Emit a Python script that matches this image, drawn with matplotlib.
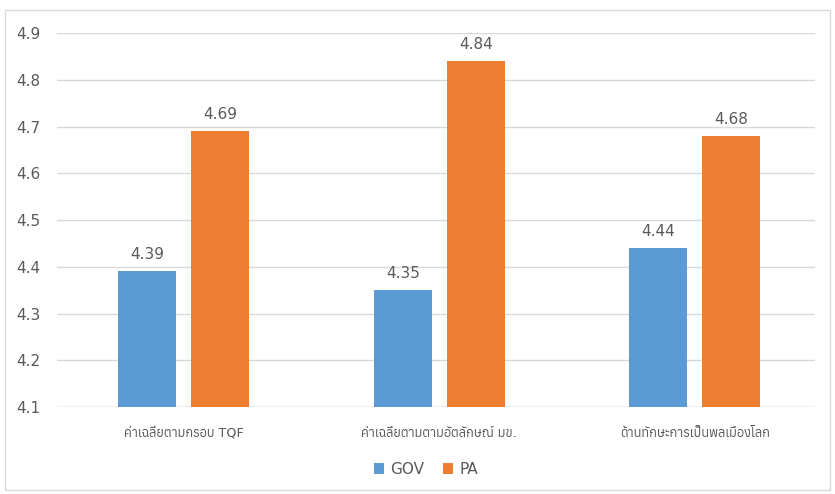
import numpy as np
import matplotlib.pyplot as plt
from matplotlib import font_manager
from matplotlib.ft2font import FT2Font
from matplotlib.patches import Rectangle

categories = ['ค่าเฉลี่ยตามกรอบ TQF', 'ค่าเฉลี่ยตามตามอัตลักษณ์ มข.', 'ด้านทักษะการเป็นพลเมืองโลก']
gov = [4.39, 4.35, 4.44]
pa = [4.69, 4.84, 4.68]
yticks = [4.1, 4.2, 4.3, 4.4, 4.5, 4.6, 4.7, 4.8, 4.9]

# find a font that has Thai glyphs
thai_fonts = []
for f in font_manager.fontManager.ttflist:
    try:
        if ord('ก') in FT2Font(f.fname).get_charmap():
            thai_fonts.append(f.name)
    except Exception:
        pass
thai_fonts = sorted(set(thai_fonts))
plt.rcParams['font.family'] = ['DejaVu Sans'] + thai_fonts[:1]

grey = '#595959'
fig = plt.figure(figsize=(8.35, 4.94), dpi=100)
fig.patches.append(Rectangle((0.006, 0.008), 0.988, 0.972, transform=fig.transFigure,
                             fill=False, edgecolor='#D9D9D9', lw=1))
ax = fig.add_axes([0.068, 0.176, 0.908, 0.757])

x = np.arange(len(categories))
w = 0.227
b1 = ax.bar(x - 0.143, np.array(gov) - 4.1, w, bottom=4.1, color='#5B9BD5', label='GOV', zorder=3)
b2 = ax.bar(x + 0.143, np.array(pa) - 4.1, w, bottom=4.1, color='#ED7D31', label='PA', zorder=3)
for bars, vals in [(b1, gov), (b2, pa)]:
    for r, v in zip(bars, vals):
        ax.text(r.get_x() + r.get_width() / 2, v + 0.02, f'{v:.2f}', ha='center', va='bottom',
                fontsize=11, color=grey)

ax.set_xlim(-0.497, 2.470)
ax.set_ylim(4.1, 4.9)
ax.set_yticks(yticks)
ax.set_yticklabels([f'{t:.1f}' for t in yticks])
ax.set_xticks(x)
ax.set_xticklabels(categories, fontsize=9.2)
ax.tick_params(axis='y', length=0, labelsize=11, labelcolor=grey, pad=12)
ax.tick_params(axis='x', length=0, labelcolor=grey, pad=14)
ax.grid(axis='y', color='#D9D9D9', lw=1, zorder=0)
for s in ax.spines.values():
    s.set_visible(False)
ax.axhline(4.1, color='#D9D9D9', lw=1, zorder=1)

fig.legend(handles=[b1, b2], labels=['GOV', 'PA'], loc='center', bbox_to_anchor=(0.51, 0.05),
           ncol=2, frameon=False, fontsize=11, labelcolor=grey, handlelength=0.7, handleheight=0.7,
           columnspacing=1.2, handletextpad=0.4)

fig.savefig('out.png', dpi=100)
